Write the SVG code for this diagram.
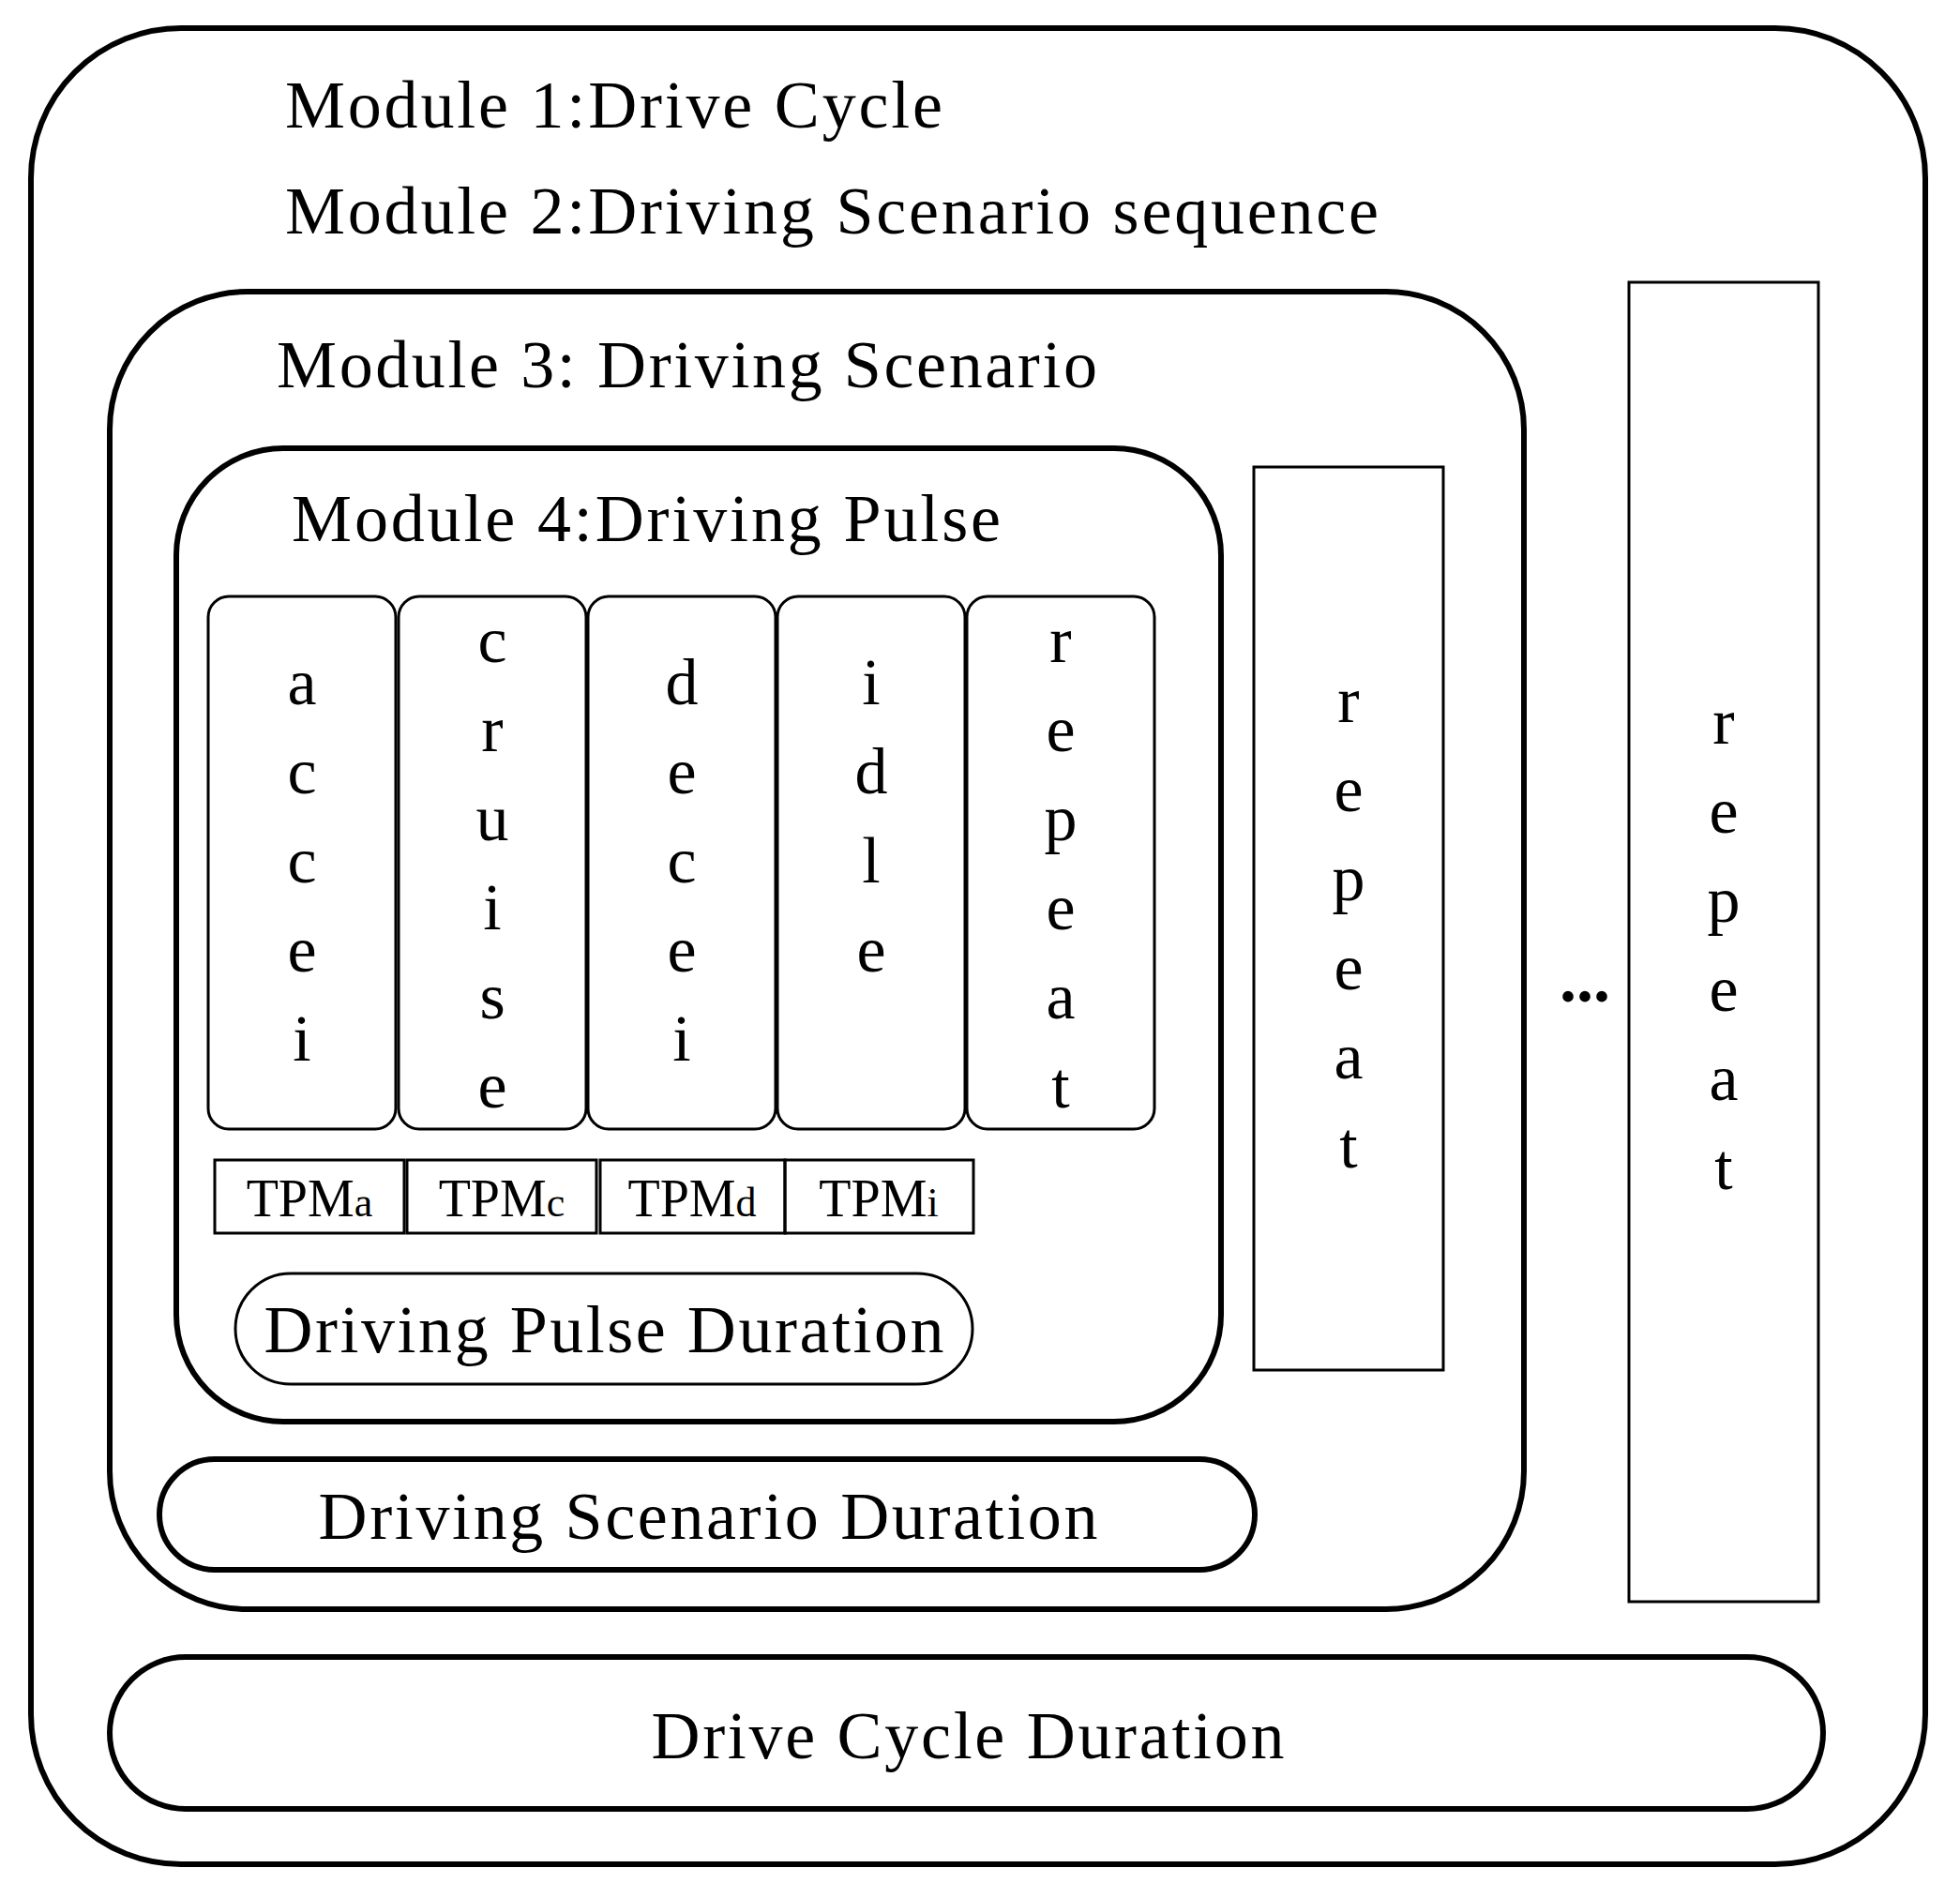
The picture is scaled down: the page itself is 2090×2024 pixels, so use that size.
<svg xmlns="http://www.w3.org/2000/svg" width="2090" height="2024" viewBox="0 0 2090 2024">
<style>
.b{fill:none;stroke:#000;stroke-width:6}
.t{fill:none;stroke:#000;stroke-width:3}
text{font-family:'Liberation Serif',serif;fill:#000}
.big{font-size:72px}
.col{font-size:70px;text-anchor:middle}
.tpm{font-size:56px;text-anchor:middle}
</style>
<rect width="2090" height="2024" fill="#fff"/>
<g id="module1">
<rect class="b" x="33" y="30" width="2020" height="1958" rx="160"/>
<text class="big" x="304" y="136" textLength="701">Module 1:Drive Cycle</text>
<text class="big" x="304" y="249" textLength="1166">Module 2:Driving Scenario sequence</text>
</g>
<g id="module3">
<rect class="b" x="117" y="311" width="1508" height="1405" rx="147"/>
<text class="big" x="295" y="413" textLength="875">Module 3: Driving Scenario</text>
</g>
<g id="module4">
<rect class="b" x="188" y="478" width="1114" height="1038" rx="114"/>
<text class="big" x="311" y="577" textLength="756">Module 4:Driving Pulse</text>
</g>
<g id="col-accei">
<rect class="t" x="222" y="636" width="200" height="568" rx="22"/>
<text class="col" x="322" y="751">a</text><text class="col" x="322" y="846">c</text><text class="col" x="322" y="941">c</text><text class="col" x="322" y="1036">e</text><text class="col" x="322" y="1131">i</text>
</g>
<g id="col-cruise">
<rect class="t" x="425" y="636" width="200" height="568" rx="22"/>
<text class="col" x="525" y="706">c</text><text class="col" x="525" y="801">r</text><text class="col" x="525" y="896">u</text><text class="col" x="525" y="991">i</text><text class="col" x="525" y="1086">s</text><text class="col" x="525" y="1181">e</text>
</g>
<g id="col-decei">
<rect class="t" x="627" y="636" width="200" height="568" rx="22"/>
<text class="col" x="727" y="751">d</text><text class="col" x="727" y="846">e</text><text class="col" x="727" y="941">c</text><text class="col" x="727" y="1036">e</text><text class="col" x="727" y="1131">i</text>
</g>
<g id="col-idle">
<rect class="t" x="829" y="636" width="200" height="568" rx="22"/>
<text class="col" x="929" y="751">i</text><text class="col" x="929" y="846">d</text><text class="col" x="929" y="941">l</text><text class="col" x="929" y="1036">e</text>
</g>
<g id="col-repeat">
<rect class="t" x="1031" y="636" width="200" height="568" rx="22"/>
<text class="col" x="1131" y="706">r</text><text class="col" x="1131" y="801">e</text><text class="col" x="1131" y="896">p</text><text class="col" x="1131" y="991">e</text><text class="col" x="1131" y="1086">a</text><text class="col" x="1131" y="1181">t</text>
</g>
<g id="tpm">
<rect class="t" x="229" y="1237" width="202" height="78"/>
<rect class="t" x="434" y="1237" width="202" height="78"/>
<rect class="t" x="640" y="1237" width="197" height="78"/>
<rect class="t" x="837" y="1237" width="201" height="78"/>
<text class="tpm" x="330" y="1297">TPM<tspan font-size="44">a</tspan></text>
<text class="tpm" x="535" y="1297">TPM<tspan font-size="44">c</tspan></text>
<text class="tpm" x="738" y="1297">TPM<tspan font-size="44">d</tspan></text>
<text class="tpm" x="937" y="1297">TPM<tspan font-size="44">i</tspan></text>
</g>
<g id="pulse-duration">
<rect class="t" x="251" y="1358" width="786" height="118" rx="59"/>
<text class="big" x="644" y="1442" text-anchor="middle" textLength="725">Driving Pulse Duration</text>
</g>
<g id="scenario-duration">
<rect class="b" x="170" y="1556" width="1168" height="118" rx="59"/>
<text class="big" x="755" y="1641" text-anchor="middle" textLength="831">Driving Scenario Duration</text>
</g>
<g id="cycle-duration">
<rect class="b" x="117" y="1767" width="1827" height="162" rx="81"/>
<text class="big" x="1032" y="1875" text-anchor="middle" textLength="675">Drive Cycle Duration</text>
</g>
<g id="repeat1">
<rect class="t" x="1337" y="498" width="202" height="963"/>
<text class="col" x="1438" y="770">r</text><text class="col" x="1438" y="865">e</text><text class="col" x="1438" y="960">p</text><text class="col" x="1438" y="1055">e</text><text class="col" x="1438" y="1150">a</text><text class="col" x="1438" y="1245">t</text>
</g>
<g id="repeat2">
<rect class="t" x="1737" y="301" width="202" height="1407"/>
<text class="col" x="1838" y="793">r</text><text class="col" x="1838" y="888">e</text><text class="col" x="1838" y="983">p</text><text class="col" x="1838" y="1078">e</text><text class="col" x="1838" y="1173">a</text><text class="col" x="1838" y="1268">t</text>
</g>
<g id="dots">
<text x="1690" y="1068" font-size="72" font-weight="bold" text-anchor="middle">...</text>
</g>
<g id="connectors"/>
</svg>
